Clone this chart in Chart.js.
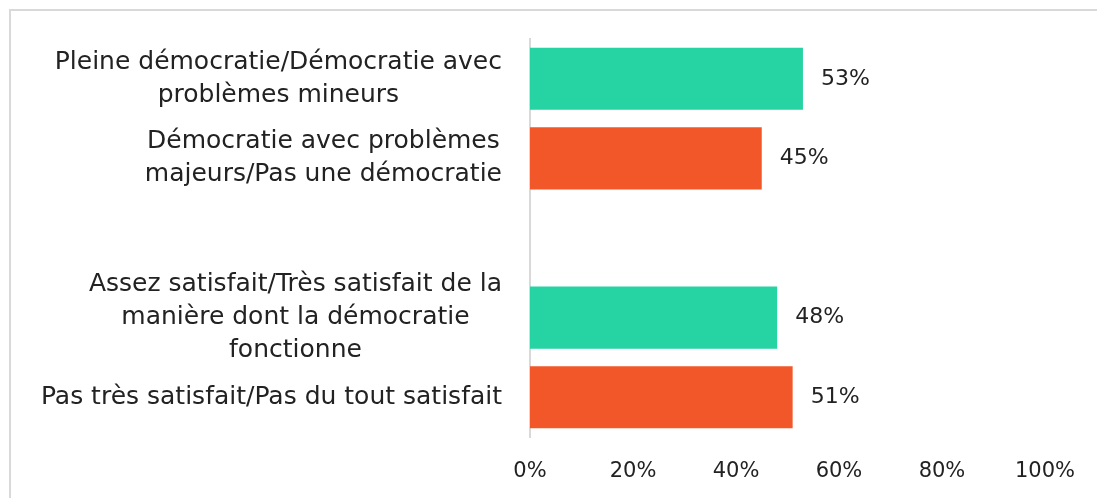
<!DOCTYPE html>
<html>
<head>
<meta charset="utf-8">
<script src="https://cdn.jsdelivr.net/npm/chart.js@4.4.0/dist/chart.umd.min.js"></script>
<style>
  html, body { margin: 0; padding: 0; background: #fff; overflow: hidden; }
  #wrap { position: relative; width: 1097px; height: 498px; }
  #frame { position: absolute; left: 9px; top: 9px; width: 1200px; height: 600px; border: 2px solid #d9d9d9; box-sizing: border-box; }
  canvas { position: absolute; left: 0; top: 0; }
</style>
</head>
<body>
<div id="wrap">
  <div id="frame"></div>
  <canvas id="chart" width="1097" height="498"></canvas>
</div>
<script>
// categories (one empty row separates the two question blocks)
const categories = [
  ["Pleine démocratie/Démocratie avec", "problèmes mineurs"],
  ["Démocratie avec problèmes", "majeurs/Pas une démocratie"],
  [""],
  ["Assez satisfait/Très satisfait de la", "manière dont la démocratie", "fonctionne"],
  ["Pas très satisfait/Pas du tout satisfait"]
];
const values = [53, 45, null, 48, 51];
const barColors = ["#26d3a3", "#f2572a", "#ffffff", "#26d3a3", "#f2572a"];
const xTickValues = [0, 20, 40, 60, 80, 100];

const FONT = "'DejaVu Sans', sans-serif";
const TEXT = "#222222";

// category labels: block right-aligned against the axis, lines centred in the block
const categoryLabels = {
  id: "categoryLabels",
  afterDraw(chart) {
    const ctx = chart.ctx;
    const y = chart.scales.y;
    const right = chart.chartArea.left - 28;
    const lh = 33;
    ctx.save();
    ctx.font = "25px " + FONT;
    ctx.fillStyle = TEXT;
    ctx.textAlign = "center";
    ctx.textBaseline = "middle";
    categories.forEach((lines, i) => {
      const cy = y.getPixelForTick(i);
      const w = Math.max(...lines.map(l => ctx.measureText(l).width));
      const cx = right - w / 2;
      const y0 = cy - (lines.length - 1) * lh / 2;
      lines.forEach((l, j) => ctx.fillText(l, cx, y0 + j * lh));
    });
    ctx.restore();
  }
};

// value labels just past the end of each bar
const valueLabels = {
  id: "valueLabels",
  afterDatasetsDraw(chart) {
    const ctx = chart.ctx;
    const meta = chart.getDatasetMeta(0);
    ctx.save();
    ctx.font = "22px " + FONT;
    ctx.fillStyle = TEXT;
    ctx.textAlign = "left";
    ctx.textBaseline = "middle";
    meta.data.forEach((bar, i) => {
      if (values[i] == null) return;
      ctx.fillText(values[i] + "%", bar.x + 18, bar.y);
    });
    ctx.restore();
  }
};

new Chart(document.getElementById("chart"), {
  type: "bar",
  data: {
    labels: categories,
    datasets: [{
      data: values,
      backgroundColor: barColors,
      categoryPercentage: 1,
      barPercentage: 0.78,
      borderWidth: 0
    }]
  },
  options: {
    indexAxis: "y",
    responsive: false,
    animation: false,
    layout: { padding: { top: 39, right: 50, left: 0, bottom: 0 } },
    plugins: { legend: { display: false }, tooltip: { enabled: false } },
    scales: {
      x: {
        min: 0,
        max: 100,
        afterBuildTicks: (scale) => { scale.ticks = xTickValues.map(v => ({ value: v })); },
        afterFit: (scale) => { scale.height = 61; },
        grid: { display: false, drawTicks: false },
        border: { display: false },
        ticks: {
          padding: 22,
          color: TEXT,
          font: { family: FONT, size: 21 },
          callback: (v) => v + "%"
        }
      },
      y: {
        afterFit: (scale) => { scale.width = 530; },
        grid: { display: false, drawTicks: false },
        border: { display: true, color: "#d9d9d9", width: 2 },
        ticks: { display: false }
      }
    }
  },
  plugins: [categoryLabels, valueLabels]
});
</script>
</body>
</html>
